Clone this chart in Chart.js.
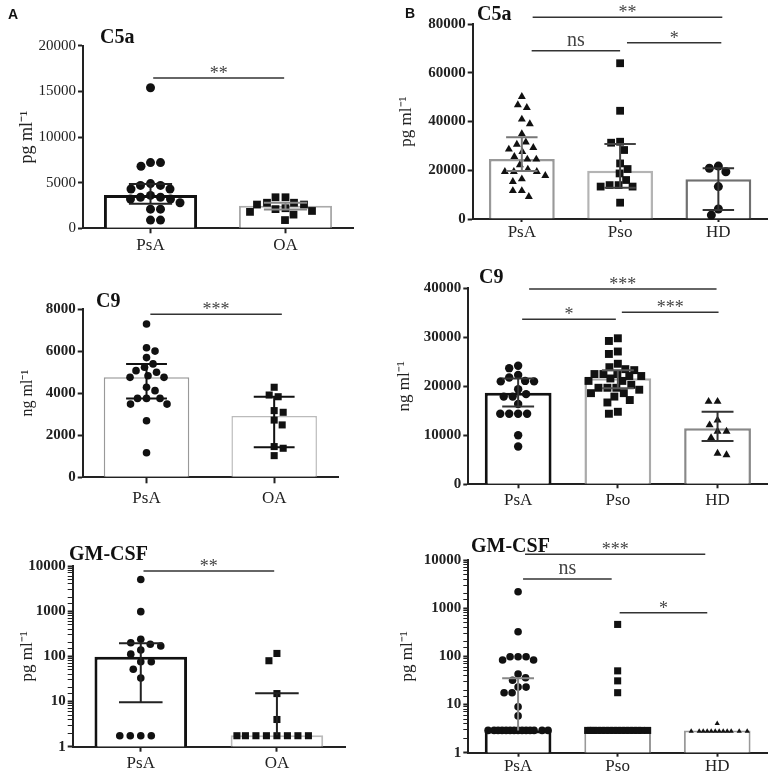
<!DOCTYPE html>
<html>
<head>
<meta charset="utf-8">
<script src="https://cdn.jsdelivr.net/npm/chart.js@4.4.1/dist/chart.umd.min.js"></script>
<style>
  body { margin: 0; background: #fff; }
  #wrap { position: relative; width: 773px; height: 776px; overflow: hidden; }
  canvas { position: absolute; }
</style>
</head>
<body>
<div id="wrap"></div>
<script>
const groupsA = ["PsA", "OA"];
const groupsB = ["PsA", "Pso", "HD"];

// A - C5a (pg/ml)
const c5aA_ticks = [0, 5000, 10000, 15000, 20000];
const c5aA_PsA = [15400, 7200, 7200, 6800, 4900, 4700, 4700, 4300, 4300, 3600, 3400, 3400, 3200, 3200, 2800, 2100, 2100, 900, 900];
const c5aA_OA = [3400, 3400, 2800, 2800, 2600, 2600, 2200, 2100, 1900, 1800, 1500, 900];
const c5aA_bar = [3650, 2480];
const c5aA_hi = [4850, 2800];
const c5aA_lo = [2700, 2050];

// B - C5a (pg/ml)
const c5aB_ticks = [0, 20000, 40000, 60000, 80000];
const c5aB_PsA = [50200, 46800, 45700, 40900, 39000, 34900, 31500, 30600, 29300, 28600, 27600, 25600, 24500, 24500, 22200, 20400, 19400, 19400, 19400, 17800, 16400, 15300, 11600, 11600, 9200];
const c5aB_Pso = [63900, 44400, 31700, 31300, 28300, 22800, 20500, 18700, 16000, 13900, 13900, 13300, 13300, 6700];
const c5aB_HD = [21700, 20800, 19400, 13300, 4100, 1600];
const c5aB_bar = [24600, 19800, 16300];
const c5aB_hi = [33500, 30800, 20800];
const c5aB_lo = [19700, 12800, 3700];

// A - C9 (ng/ml)
const c9A_ticks = [0, 2000, 4000, 6000, 8000];
const c9A_PsA = [7290, 6160, 6000, 5690, 5390, 5230, 5070, 4990, 4830, 4750, 4750, 4280, 4120, 3750, 3750, 3750, 3480, 3480, 2690, 1170];
const c9A_OA = [4280, 3910, 3830, 3170, 3090, 2720, 2490, 1460, 1380, 1030];
const c9A_bar = [4750, 2915];
const c9A_hi = [5390, 3830];
const c9A_lo = [3750, 1425];

// B - C9 (ng/ml)
const c9B_ticks = [0, 10000, 20000, 30000, 40000];
const c9B_PsA = [24200, 23700, 22300, 21800, 21100, 21000, 21000, 19400, 18400, 17900, 17900, 16400, 14400, 14400, 14400, 14400, 10000, 7700];
const c9B_Pso = [29800, 29250, 27100, 26600, 24600, 23900, 23500, 23300, 22500, 22500, 22500, 22100, 22100, 21600, 21100, 21100, 20300, 19700, 19700, 19700, 19300, 18600, 18600, 17900, 17200, 16700, 14800, 14400];
const c9B_HD = [16900, 16900, 13100, 12100, 10800, 10800, 9500, 6300, 6000];
const c9B_bar = [18700, 21630, 11430];
const c9B_hi = [21600, 23300, 14800];
const c9B_lo = [15900, 19600, 8840];

// A - GM-CSF (pg/ml, log)
const gmA_ticks = [1, 10, 100, 1000, 10000];
const gmA_PsA = [5040, 975, 238, 200, 185, 170, 138, 112, 76, 76, 52, 33, 1.75, 1.75, 1.75, 1.75];
const gmA_OA = [116, 80, 15, 4, 1.75, 1.75, 1.75, 1.75, 1.75, 1.75, 1.75, 1.75];
const gmA_bar = [98, 1.8];
const gmA_hi = [194, 15.2];
const gmA_lo = [9.6, 1.8];

// B - GM-CSF (pg/ml, log)
const gmB_ticks = [1, 10, 100, 1000, 10000];
const gmB_PsA = [2200, 325, 98, 98, 98, 84, 84, 43, 36, 32, 23, 23, 17.6, 17.6, 9, 5.8, 2.9, 2.9, 2.9, 2.9, 2.9, 2.9, 2.9, 2.9, 2.9, 2.9, 2.9, 2.9, 2.9, 2.9];
const gmB_Pso = [460, 50, 31, 17.6, 2.9, 2.9, 2.9, 2.9, 2.9, 2.9, 2.9, 2.9, 2.9, 2.9, 2.9, 2.9, 2.9, 2.9, 2.9, 2.9];
const gmB_HD = [4.06, 2.8, 2.8, 2.8, 2.8, 2.8, 2.8, 2.8, 2.8, 2.8, 2.8, 2.8, 2.8];
const gmB_bar = [2.9, 2.9, 2.9];
const gmB_hi = [35, 2.9, 2.9];
const gmB_lo = [2.9, 2.9, 2.9];

const SERIF = "'Liberation Serif', 'Times New Roman', serif";
const wrap = document.getElementById("wrap");

// simple beeswarm: offsets in px so dots don't overlap, limited to maxHalf
function swarm(vals, toPx, diam, maxHalf) {
  const placed = [];
  return vals.map((v, idx) => {
    const py = toPx(v);
    let found = null, fallback = 0, bestD = -1;
    const signs = idx % 2 ? [-1, 1] : [1, -1];
    for (let k = 0; k <= maxHalf * 2 && found === null; k++) {
      const mag = k / 2;
      for (const sg of mag === 0 ? [1] : signs) {
        const px = sg * mag;
        let minD = Infinity;
        placed.forEach(q => { minD = Math.min(minD, Math.hypot(px - q.x, py - q.y)); });
        if (minD >= diam) { found = px; break; }
        if (minD > bestD) { bestD = minD; fallback = px; }
      }
    }
    const x = found === null ? fallback : found;
    placed.push({ x: x, y: py });
    return x;
  });
}

const isMajor = v => {
  const l = Math.log10(v);
  return Math.abs(l - Math.round(l)) < 1e-9;
};

function makePanel(s) {
  const [cx, cy, cw, ch] = s.box;
  const [pl, pt, pr, pb] = s.plot;
  const cv = document.createElement("canvas");
  cv.width = cw;
  cv.height = ch;
  cv.style.left = cx + "px";
  cv.style.top = cy + "px";
  wrap.appendChild(cv);

  const lh = s.ylabelSize * 1.2;
  const padL = s.ylabelX - cx - lh / 2;
  const yWidth = pl - cx - padL;
  const xH = 30;
  const n = s.groups.length;
  const plotH = pb - pt;
  const catPx = (pr - pl) / n;
  const tmin = s.ticks[0], tmax = s.ticks[s.ticks.length - 1];
  const toPx = s.log
    ? v => (Math.log10(v) - Math.log10(tmin)) / (Math.log10(tmax) - Math.log10(tmin)) * plotH
    : v => (v - tmin) / (tmax - tmin) * plotH;

  const scatterSets = s.points.map((vals, i) => {
    const offs = swarm(vals, toPx, s.diam, s.maxHalf);
    return {
      type: "scatter",
      order: 0,
      data: vals.map((v, k) => ({ x: i + offs[k] / catPx, y: v })),
      pointStyle: s.markers[i],
      pointRadius: s.radius[i],
      pointBackgroundColor: "#111",
      pointBorderWidth: 0,
      clip: false,
    };
  });

  const annot = {
    id: "annot",
    afterDatasetsDraw(chart) {
      const ctx = chart.ctx;
      const x = chart.scales.x, y = chart.scales.y;
      ctx.save();
      // error bars
      s.bars.forEach((m, i) => {
        const xc = x.getPixelForValue(i);
        const hw = x.getPixelForValue(i + 0.16) - xc;
        const yHi = y.getPixelForValue(s.hi[i]);
        const yLo = y.getPixelForValue(s.lo[i]);
        ctx.strokeStyle = s.errColor[i];
        ctx.lineWidth = 2;
        ctx.beginPath();
        ctx.moveTo(xc, yHi);
        ctx.lineTo(xc, yLo);
        if (s.hi[i] > m) { ctx.moveTo(xc - hw, yHi); ctx.lineTo(xc + hw, yHi); }
        if (s.lo[i] < m) { ctx.moveTo(xc - hw, yLo); ctx.lineTo(xc + hw, yLo); }
        ctx.stroke();
      });
      // significance brackets
      s.sig.forEach(b => {
        const xa = x.getPixelForValue(b.from), xb = x.getPixelForValue(b.to);
        const yy = y.getPixelForValue(b.at);
        ctx.strokeStyle = "#333";
        ctx.lineWidth = 1.5;
        ctx.beginPath();
        ctx.moveTo(xa, yy);
        ctx.lineTo(xb, yy);
        ctx.stroke();
        ctx.fillStyle = "#444";
        ctx.textAlign = "center";
        ctx.textBaseline = "alphabetic";
        if (b.text === "ns") {
          ctx.font = "20px " + SERIF;
          ctx.fillText(b.text, (xa + xb) / 2, yy - 5);
        } else {
          ctx.font = "18px " + SERIF;
          ctx.fillText(b.text, (xa + xb) / 2, yy + 1);
        }
      });
      // panel title and letter
      ctx.fillStyle = "#111";
      ctx.textAlign = "left";
      ctx.font = "bold 20px " + SERIF;
      ctx.fillText(s.title, s.titleXY[0] - cx, s.titleXY[1] - cy);
      if (s.letter) {
        ctx.font = "bold 14px 'Liberation Sans', Arial, sans-serif";
        ctx.fillText(s.letter, s.letterXY[0] - cx, s.letterXY[1] - cy);
      }
      ctx.restore();
    },
  };

  new Chart(cv, {
    type: "bar",
    data: {
      datasets: [
        {
          type: "bar",
          order: 10,
          grouped: false,
          data: s.bars.map((v, i) => ({ x: i, y: v })),
          backgroundColor: "#ffffff",
          borderColor: s.barColor,
          borderWidth: s.barWidth,
          categoryPercentage: 1,
          barPercentage: s.barPct,
        },
        ...scatterSets,
      ],
    },
    options: {
      responsive: false,
      animation: false,
      events: [],
      layout: {
        padding: { left: padL, top: pt - cy, right: cx + cw - pr, bottom: cy + ch - pb - xH },
      },
      plugins: { legend: { display: false }, tooltip: { enabled: false } },
      scales: {
        x: {
          type: "linear",
          min: -0.5,
          max: n - 0.5,
          offset: false,
          afterFit: sc => { sc.height = xH; },
          afterBuildTicks: sc => { sc.ticks = s.groups.map((g, i) => ({ value: i })); },
          border: { display: true, color: "#222", width: 2 },
          grid: { display: true, offset: false, drawOnChartArea: false, drawTicks: true, tickLength: s.xTick, tickColor: "#222", tickWidth: 2 },
          ticks: { color: "#222", padding: s.xPad, font: { family: SERIF, size: 17 }, callback: v => s.groups[v] },
        },
        y: {
          type: s.log ? "logarithmic" : "linear",
          min: tmin,
          max: tmax,
          afterFit: sc => { sc.width = yWidth; },
          border: { display: true, color: "#222", width: 2 },
          grid: {
            display: true,
            drawOnChartArea: false,
            drawTicks: true,
            tickLength: 5,
            tickColor: "#222",
            tickWidth: s.log ? (c => (c.tick && isMajor(c.tick.value) ? 2 : 1)) : 2,
          },
          ticks: {
            autoSkip: false,
            stepSize: s.log ? undefined : s.ticks[1] - s.ticks[0],
            color: "#222",
            padding: 2,
            font: { family: SERIF, size: 15, weight: s.tickBold ? "bold" : "normal" },
            callback: v => (s.log ? (isMajor(v) && s.ticks.includes(Math.round(v)) ? String(Math.round(v)) : "") : String(v)),
          },
          title: {
            display: true,
            text: s.ylabel,
            padding: 0,
            color: "#222",
            font: { family: SERIF, size: s.ylabelSize },
          },
        },
      },
    },
    plugins: [annot],
  });
}

const panels = [
  {
    box: [0, 0, 380, 275], plot: [83, 45.7, 353, 228.3], groups: groupsA, ticks: c5aA_ticks, log: false,
    ylabel: "pg ml\u207B\u00B9", ylabelX: 27, ylabelSize: 18, title: "C5a", titleXY: [100, 43], letter: "A", letterXY: [8, 19],
    bars: c5aA_bar, hi: c5aA_hi, lo: c5aA_lo, points: [c5aA_PsA, c5aA_OA],
    markers: ["circle", "rect"], radius: [4.5, 5.5], barColor: ["#111", "#aaa"], barWidth: [3, 2], errColor: ["#222", "#888"],
    barPct: 0.69, diam: 10, maxHalf: 38, xTick: 5, xPad: 2, tickBold: false,
    sig: [{ from: 0.02, to: 0.99, at: 16460, text: "**" }],
  },
  {
    box: [380, 0, 393, 275], plot: [472.7, 24, 768, 219], groups: groupsB, ticks: c5aB_ticks, log: false,
    ylabel: "pg ml\u207B\u00B9", ylabelX: 407, ylabelSize: 17, title: "C5a", titleXY: [477, 20], letter: "B", letterXY: [405, 18],
    bars: c5aB_bar, hi: c5aB_hi, lo: c5aB_lo, points: [c5aB_PsA, c5aB_Pso, c5aB_HD],
    markers: ["triangle", "rect", "circle"], radius: [4.6, 5.5, 4.5], barColor: ["#999", "#b4b4b4", "#707070"], barWidth: 2.5, errColor: ["#777", "#444", "#333"],
    barPct: 0.67, diam: 9, maxHalf: 30, xTick: 3, xPad: 0, tickBold: true,
    sig: [
      { from: 0.11, to: 2.04, at: 82750, text: "**" },
      { from: 0.1, to: 1.0, at: 69050, text: "ns" },
      { from: 1.07, to: 2.03, at: 72330, text: "*" },
    ],
  },
  {
    box: [0, 255, 380, 275], plot: [82.7, 309, 338, 477.3], groups: groupsA, ticks: c9A_ticks, log: false,
    ylabel: "ng ml\u207B\u00B9", ylabelX: 28, ylabelSize: 16, title: "C9", titleXY: [96, 307],
    bars: c9A_bar, hi: c9A_hi, lo: c9A_lo, points: [c9A_PsA, c9A_OA],
    markers: ["circle", "rect"], radius: [3.8, 5], barColor: ["#999", "#bbb"], barWidth: 1.5, errColor: ["#111", "#111"],
    barPct: 0.67, diam: 9, maxHalf: 40, xTick: 6, xPad: 5, tickBold: true,
    sig: [{ from: 0.03, to: 1.06, at: 7750, text: "***" }],
  },
  {
    box: [380, 255, 393, 275], plot: [468.3, 288.3, 769, 484.3], groups: groupsB, ticks: c9B_ticks, log: false,
    ylabel: "ng ml\u207B\u00B9", ylabelX: 405, ylabelSize: 17, title: "C9", titleXY: [479, 283],
    bars: c9B_bar, hi: c9B_hi, lo: c9B_lo, points: [c9B_PsA, c9B_Pso, c9B_HD],
    markers: ["circle", "rect", "triangle"], radius: [4.2, 5.6, 4.6], barColor: ["#111", "#aaa", "#888"], barWidth: [3, 2.5, 2.5], errColor: ["#333", "#555", "#333"],
    barPct: 0.67, diam: 9, maxHalf: 30, xTick: 4, xPad: 2, tickBold: true,
    sig: [
      { from: 0.11, to: 1.99, at: 39860, text: "***" },
      { from: 0.04, to: 0.98, at: 33670, text: "*" },
      { from: 1.04, to: 2.01, at: 35100, text: "***" },
    ],
  },
  {
    box: [0, 510, 380, 286], plot: [72.7, 566, 345, 746.7], groups: groupsA, ticks: gmA_ticks, log: true,
    ylabel: "pg ml\u207B\u00B9", ylabelX: 28, ylabelSize: 17, title: "GM-CSF", titleXY: [69, 560],
    bars: gmA_bar, hi: gmA_hi, lo: gmA_lo, points: [gmA_PsA, gmA_OA],
    markers: ["circle", "rect"], radius: [3.8, 5], barColor: ["#111", "#bbb"], barWidth: [3, 2], errColor: ["#222", "#222"],
    barPct: 0.68, diam: 10.5, maxHalf: 40, xTick: 5, xPad: 2, tickBold: true,
    sig: [{ from: 0.02, to: 0.98, at: 7745, text: "**" }],
  },
  {
    box: [380, 510, 393, 286], plot: [468.3, 560, 767, 752.7], groups: groupsB, ticks: gmB_ticks, log: true,
    ylabel: "pg ml\u207B\u00B9", ylabelX: 408, ylabelSize: 17, title: "GM-CSF", titleXY: [471, 552],
    bars: gmB_bar, hi: gmB_hi, lo: gmB_lo, points: [gmB_PsA, gmB_Pso, gmB_HD],
    markers: ["circle", "rect", "triangle"], radius: [3.8, 5, 3], barColor: ["#111", "#999", "#999"], barWidth: [3, 2, 2], errColor: ["#888", "#888", "#888"],
    barPct: 0.67, diam: 8, maxHalf: 30, xTick: 4, xPad: 0, tickBold: true,
    sig: [
      { from: 0.07, to: 1.88, at: 13130, text: "***" },
      { from: 0.05, to: 0.94, at: 4035, text: "ns" },
      { from: 1.02, to: 1.9, at: 805, text: "*" },
    ],
  },
];

panels.forEach(makePanel);
</script>
</body>
</html>
